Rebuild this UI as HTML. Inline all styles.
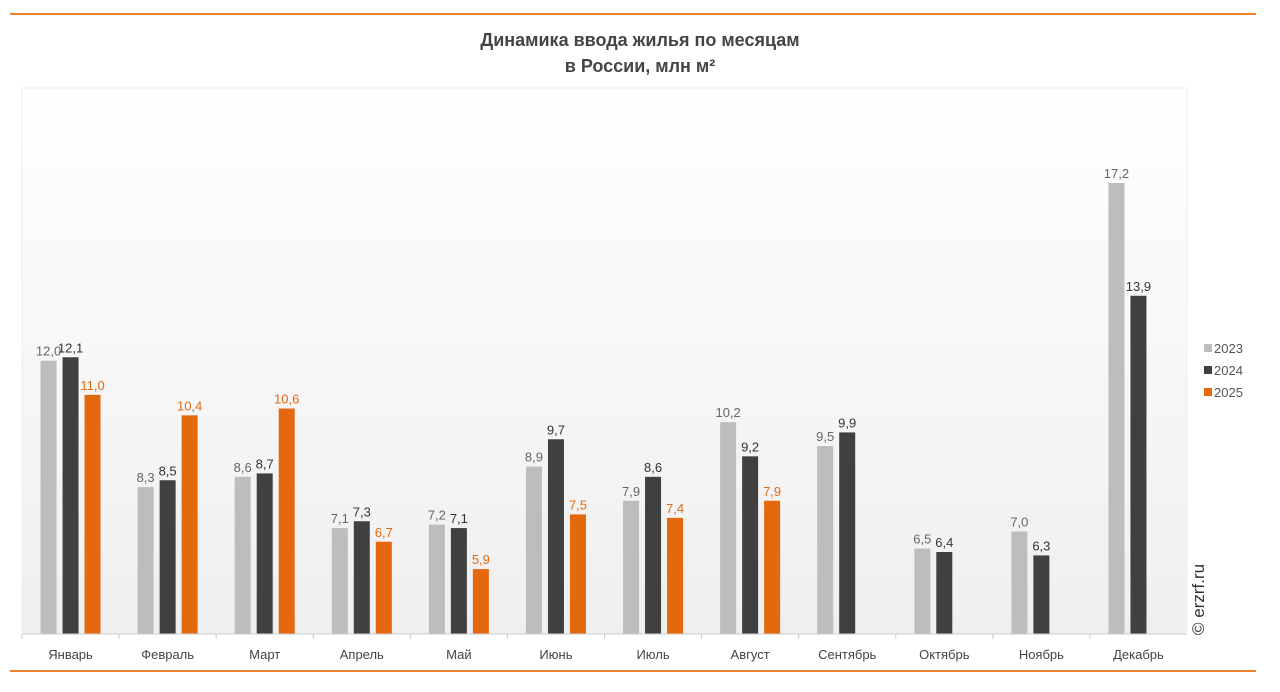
<!DOCTYPE html>
<html><head><meta charset="utf-8"><style>
body{margin:0;width:1280px;height:687px;background:#fff;font-family:"Liberation Sans",sans-serif;overflow:hidden}
</style></head><body>
<svg width="1280" height="687">
<defs><linearGradient id="bg" x1="0" y1="0" x2="0" y2="1"><stop offset="0" stop-color="#ffffff"/><stop offset="1" stop-color="#efefef"/></linearGradient></defs>
<line x1="10" y1="14" x2="1256" y2="14" stroke="#e8822f" stroke-width="2"/>
<line x1="10" y1="671" x2="1256" y2="671" stroke="#e8822f" stroke-width="2"/>
<text x="640" y="46" text-anchor="middle" font-size="18" font-weight="bold" fill="#444">Динамика ввода жилья по месяцам</text>
<text x="640" y="72" text-anchor="middle" font-size="18" font-weight="bold" fill="#444">в России, млн м²</text>
<rect x="22" y="88" width="1165" height="546" fill="url(#bg)" stroke="#eee"/>
<g id="bars"></g>
<g id="legend"></g>
<text transform="translate(1204,635) rotate(-90)" font-size="17" fill="#333">© erzrf.ru</text>
</svg>
<script>
const categories=["Январь","Февраль","Март","Апрель","Май","Июнь","Июль","Август","Сентябрь","Октябрь","Ноябрь","Декабрь"];
const seriesNames=["2023","2024","2025"];
const s2023=[12.0,8.3,8.6,7.1,7.2,8.9,7.9,10.2,9.5,6.5,7.0,17.2];
const s2024=[12.1,8.5,8.7,7.3,7.1,9.7,8.6,9.2,9.9,6.4,6.3,13.9];
const s2025=[11.0,10.4,10.6,6.7,5.9,7.5,7.4,7.9,null,null,null,null];
const colors=["#bdbdbd","#404040","#e4690e"];
const labelColors=["#666","#333","#e4690e"];
const X0=22,X1=1187,Y0=634,vmin=4,vmax=17.2,ytop=183;
const bw=(X1-X0)/categories.length;
const y=v=>Y0-(v-vmin)*(Y0-ytop)/(vmax-vmin);
const xc=i=>X0+bw*(i+0.5);
const NS="http://www.w3.org/2000/svg";
const g=document.getElementById('bars');
const svg=document.querySelector('svg');
function mk(t,a){const e=document.createElementNS(NS,t);for(const k in a)e.setAttribute(k,a[k]);return e;}
const all=[s2023,s2024,s2025];
const fmt=v=>v.toFixed(1).replace('.',',');
categories.forEach((c,i)=>{
  const cx=xc(i);
  all.forEach((s,j)=>{
    const v=s[i]; if(v==null)return;
    const bx=cx+(j-1)*22-8;
    const r=mk('rect',{x:bx,y:y(v),width:16,height:Y0-y(v),fill:colors[j]});
    
    
    g.appendChild(r);
    const t=mk('text',{x:bx+8,y:y(v)-5,'text-anchor':'middle','font-size':13,fill:labelColors[j]});
    t.textContent=fmt(v);
    
    
    g.appendChild(t);
  });
  const l=mk('text',{x:cx,y:659,'text-anchor':'middle','font-size':13,fill:'#444'});
  l.textContent=c;
  
  
  g.appendChild(l);
  const tk=mk('line',{x1:X0+bw*i,y1:Y0,x2:X0+bw*i,y2:Y0+5,stroke:'#ccc'});
  
  
  g.appendChild(tk);
});
const ax=mk('line',{x1:X0,y1:Y0,x2:X1,y2:Y0,stroke:'#ccc'});


g.appendChild(ax);
const lg=document.getElementById('legend');
seriesNames.forEach((n,j)=>{
  const r=mk('rect',{x:1204,y:344+j*22,width:8,height:8,fill:colors[j]});
  
  
  lg.appendChild(r);
  const t=mk('text',{x:1214,y:353+j*22,'font-size':13,fill:'#555'});
  t.textContent=n;
  
  
  lg.appendChild(t);
});
</script>
</body></html>
